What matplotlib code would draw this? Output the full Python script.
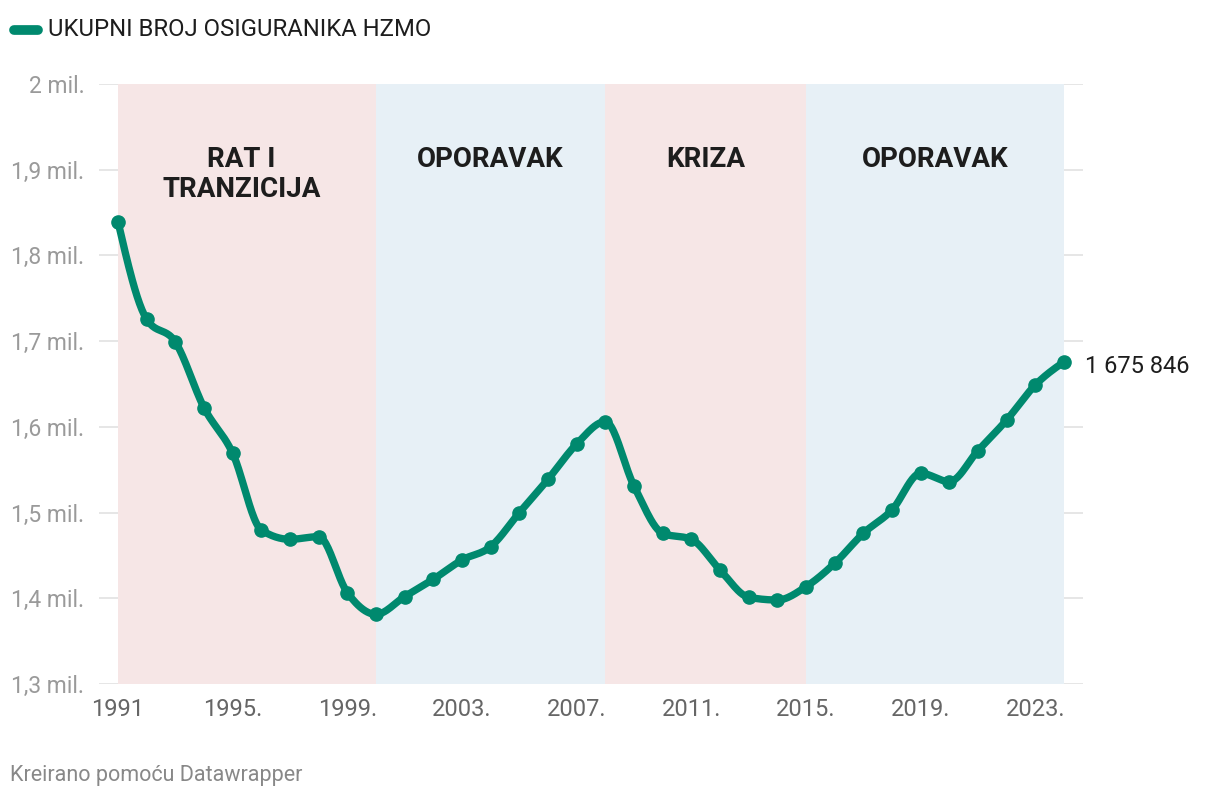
import numpy as np
import matplotlib
matplotlib.use('Agg')
import matplotlib.pyplot as plt

plt.rcParams['font.family'] = ['Roboto', 'DejaVu Sans']

# data (insured persons, millions)
years = np.arange(1991, 2025)
insured = [1.8394, 1.7255, 1.699, 1.6224, 1.5692, 1.4797, 1.4688, 1.4719,
           1.4066, 1.3813, 1.4020, 1.4222, 1.4447, 1.4602, 1.4999, 1.5388,
           1.5800, 1.6061, 1.5310, 1.4758, 1.4688, 1.4330, 1.4012, 1.3980,
           1.4135, 1.4408, 1.4758, 1.5030, 1.5459, 1.5361, 1.5723, 1.6080,
           1.6489, 1.675846]

periods = [(1991, 2000, 'RAT I\nTRANZICIJA', 'pink'),
           (2000, 2008, 'OPORAVAK', 'blue'),
           (2008, 2015, 'KRIZA', 'pink'),
           (2015, 2024, 'OPORAVAK', 'blue')]
period_colors = {'pink': '#f6e6e6', 'blue': '#e7f0f6'}

yticks = [1.3, 1.4, 1.5, 1.6, 1.7, 1.8, 1.9, 2.0]
ytick_labels = ['1,3 mil.', '1,4 mil.', '1,5 mil.', '1,6 mil.', '1,7 mil.',
                '1,8 mil.', '1,9 mil.', '2 mil.']
xticks = [1991, 1995, 1999, 2003, 2007, 2011, 2015, 2019, 2023]
xtick_labels = ['1991', '1995.', '1999.', '2003.', '2007.', '2011.',
                '2015.', '2019.', '2023.']

GREEN = '#00896e'


def monotone_curve(x, y, n=24):
    # monotone cubic (like d3 curveMonotoneX), only for drawing the line
    x = np.asarray(x, float)
    y = np.asarray(y, float)
    h = np.diff(x)
    s = np.diff(y) / h
    m = np.zeros(len(x))
    for i in range(1, len(x) - 1):
        p = (s[i - 1] * h[i] + s[i] * h[i - 1]) / (h[i - 1] + h[i])
        m[i] = (np.sign(s[i - 1]) + np.sign(s[i])) * min(abs(s[i - 1]), abs(s[i]), 0.5 * abs(p))
    m[0] = (3 * s[0] - m[1]) / 2
    m[-1] = (3 * s[-1] - m[-2]) / 2
    xs, ys = [], []
    for i in range(len(x) - 1):
        t = np.linspace(0, 1, n, endpoint=False)
        h00 = 2 * t**3 - 3 * t**2 + 1
        h10 = t**3 - 2 * t**2 + t
        h01 = -2 * t**3 + 3 * t**2
        h11 = t**3 - t**2
        xs.append(x[i] + t * h[i])
        ys.append(h00 * y[i] + h10 * h[i] * m[i] + h01 * y[i + 1] + h11 * h[i] * m[i + 1])
    xs.append([x[-1]])
    ys.append([y[-1]])
    return np.concatenate(xs), np.concatenate(ys)


fig = plt.figure(figsize=(12.2, 8), dpi=100)
ax = fig.add_axes([99 / 1220, 116 / 800, 984 / 1220, 600 / 800])

ax.set_xlim(1990.337, 2024.663)
ax.set_ylim(1.3, 2.0)

for y in yticks:
    ax.axhline(y, color='#e4e4e4', lw=1.3, zorder=0)

for start, end, label, c in periods:
    ax.axvspan(start, end, ymin=0, ymax=1, color=period_colors[c], lw=0, zorder=1)
    xc = (start + end) / 2 if start != 1991 else 1995.3
    ax.text(xc, 1.9275, label, ha='center', va='top', fontsize=20,
            fontweight='bold', color='#1d1d1d', linespacing=1.15, zorder=3)

xs, ys = monotone_curve(years, insured)
ax.plot(xs, ys, color=GREEN, lw=5.3, solid_capstyle='round', zorder=4)
ax.plot(years, insured, 'o', color=GREEN, ms=9.5, zorder=5)

ax.text(years[-1] + 0.73, insured[-1] - 0.006, '1 675 846', ha='left', va='center',
        fontsize=17, color='#1d1d1d')

for s in ax.spines.values():
    s.set_visible(False)
ax.set_yticks(yticks)
ax.set_yticklabels(ytick_labels)
ax.set_xticks(xticks)
ax.set_xticklabels(xtick_labels)
ax.tick_params(axis='both', length=0)
ax.tick_params(axis='y', labelsize=16.5, labelcolor='#9a9a9a', pad=10.5)
ax.tick_params(axis='x', labelsize=17, labelcolor='#666666', pad=10)

# legend-like header
fig.add_artist(plt.Line2D([14 / 1220, 38 / 1220], [1 - 30 / 800, 1 - 30 / 800],
                          color=GREEN, lw=7, solid_capstyle='round'))
fig.text(48 / 1220, 1 - 30 / 800, 'UKUPNI BROJ OSIGURANIKA HZMO', ha='left',
         va='center', fontsize=17.2, color='#1d1d1d')

fig.text(10 / 1220, 1 - 776 / 800, 'Kreirano pomoću Datawrapper', ha='left',
         va='center', fontsize=15.5, color='#888888')

plt.savefig('out.png', dpi=100)
